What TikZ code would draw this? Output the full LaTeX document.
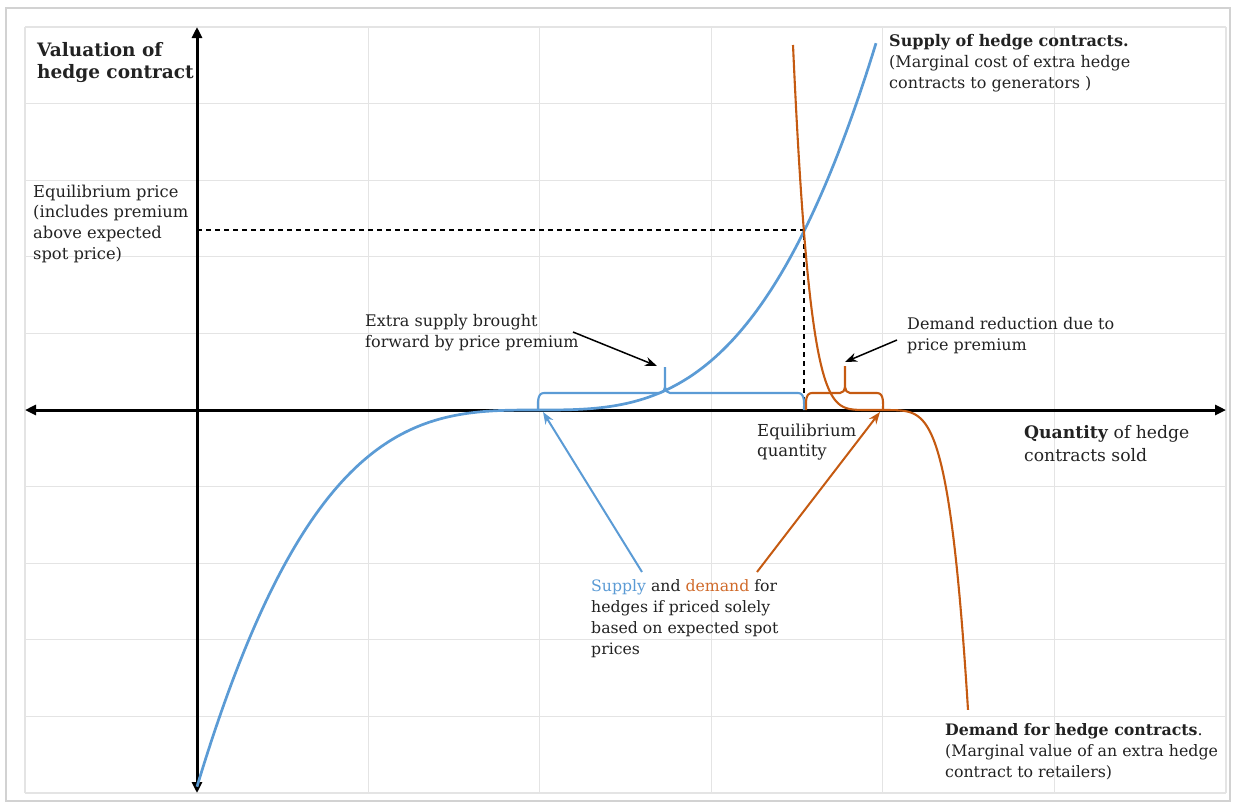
\documentclass[tikz,border=0pt]{standalone}
\usepackage{fontspec}
\setmainfont{DejaVu Serif}
\usetikzlibrary{arrows.meta}
\definecolor{sblue}{HTML}{5B9BD5}
\definecolor{dorange}{HTML}{C55A11}
\definecolor{torange}{HTML}{D06A2A}
\definecolor{gridc}{HTML}{E4E4E4}
\definecolor{txt}{HTML}{222222}
\begin{document}
\begin{tikzpicture}[x=1pt,y=-1pt,
  lbl/.style={anchor=north west, inner sep=0pt, align=left, font=\fontsize{16}{20.8}\selectfont, text=txt},
  axisline/.style={line width=3pt, {Triangle[length=11pt,width=10pt]}-{Triangle[length=11pt,width=10pt]}},
  callout/.style={line width=1.5pt, -{Stealth[length=12pt,width=9pt]}},
  bluearrow/.style={line width=2pt, sblue, -{Stealth[length=12pt,width=9pt]}},
  orangearrow/.style={line width=2pt, dorange, -{Stealth[length=12pt,width=9pt]}},
  curve/.style={line width=2.7pt},
  bracepath/.style={line width=2.1pt},
  gridline/.style={gridc, line width=1.2pt},
  eqdash/.style={line width=1.4pt, dash pattern=on 5pt off 4pt}
]
\useasboundingbox (0,0) rectangle (1234,807);
% frame
\draw[gray!35, line width=1.2pt] (6,8) rectangle (1230,801);
% grid
\foreach \i in {0,...,7} \draw[gridline] ({25+171.57*\i},27) -- ({25+171.57*\i},793);
\foreach \j in {0,...,10} \draw[gridline] (25,{27+76.6*\j}) -- (1226,{27+76.6*\j});
% axes
\coordinate (xl) at (25,410);
\coordinate (xr) at (1226,410);
\coordinate (yt) at (197,27);
\coordinate (yb) at (197,793);
\draw[axisline] (xl) -- (xr);
\draw[axisline] (yb) -- (yt);
% equilibrium dashed lines
\coordinate (eq) at (804,230);
\coordinate (eqy) at (197,230);
\coordinate (eqx) at (804,410);
\draw[eqdash] (eqy) -- (eq) -- (eqx);
% supply curve
\draw[curve, sblue] plot[domain=197:876, samples=200]
  (\x, {410 - 9.5*((\x-538)/100)*((\x-538)/100)*((\x-538)/100)});
% demand curve
\draw[curve, dorange, line width=2.1pt] plot[domain=793:875, samples=150]
  (\x, {410 - 984.6*((875-\x)/100)*((875-\x)/100)*((875-\x)/100)*((875-\x)/100)*((875-\x)/100)})
  -- plot[domain=875:968, samples=100]
  (\x, {410 + 431*((\x-875)/100)*((\x-875)/100)*((\x-875)/100)*((\x-875)/100)*((\x-875)/100)});
% blue brace
\coordinate (bb1) at (538,410);
\coordinate (bb2) at (804,410);
\coordinate (bbt) at (665,367);
\draw[bracepath, sblue, line join=round]
  (bb1) to[out=90,in=180] (544,393) -- (660,393) to[out=0,in=-90] (665,387) -- (bbt)
  (665,387) to[out=-90,in=180] (670,393) -- (798,393) to[out=0,in=90] (bb2);
% orange brace
\coordinate (ob1) at (806,410);
\coordinate (ob2) at (883,410);
\coordinate (obt) at (845,366);
\draw[bracepath, dorange, line join=round]
  (ob1) to[out=90,in=180] (812,393) -- (840,393) to[out=0,in=-90] (845,387) -- (obt)
  (845,387) to[out=-90,in=180] (850,393) -- (877,393) to[out=0,in=90] (ob2);
% labels
\node[lbl, font=\fontsize{18.5}{22}\selectfont\bfseries] (ylab) at (37,42) {Valuation of\\hedge contract};
\node[lbl, font=\fontsize{16.3}{20.7}\selectfont] (eqp) at (33,184.5) {Equilibrium price\\(includes premium\\above expected\\spot price)};
\node[lbl] (sup) at (889,34.5) {\textbf{Supply of hedge contracts.}\\(Marginal cost of extra hedge\\contracts to generators )};
\node[lbl] (extra) at (365,314.5) {Extra supply brought\\forward by price premium};
\node[lbl] (dred) at (907,317.5) {Demand reduction due to\\price premium};
\node[lbl, font=\fontsize{16.5}{20.5}\selectfont] (eqq) at (757,423.5) {Equilibrium\\quantity};
\node[lbl, font=\fontsize{17.2}{22.5}\selectfont] (xlab) at (1024,425.5) {\textbf{Quantity} of hedge\\contracts sold};
\node[lbl, font=\fontsize{15.7}{21}\selectfont] (sd) at (591,579.5) {\textcolor{sblue}{Supply} and \textcolor{torange}{demand} for\\hedges if priced solely\\based on expected spot\\prices};
\node[lbl, font=\fontsize{15.8}{21}\selectfont] (dem) at (945,723.5) {\textbf{Demand for hedge contracts}.\\(Marginal value of an extra hedge\\contract to retailers)};
% callout arrows
\coordinate (c1s) at (573,332);
\coordinate (c1e) at (657,366);
\draw[callout] (c1s) -- (c1e);
\coordinate (c2s) at (897,340);
\coordinate (c2e) at (845,362);
\draw[callout] (c2s) -- (c2e);
\coordinate (c3s) at (642,572);
\coordinate (c3e) at (543,412);
\draw[bluearrow] (c3s) -- (c3e);
\coordinate (c4s) at (757,572);
\coordinate (c4e) at (880,412);
\draw[orangearrow] (c4s) -- (c4e);
\end{tikzpicture}
\end{document}
